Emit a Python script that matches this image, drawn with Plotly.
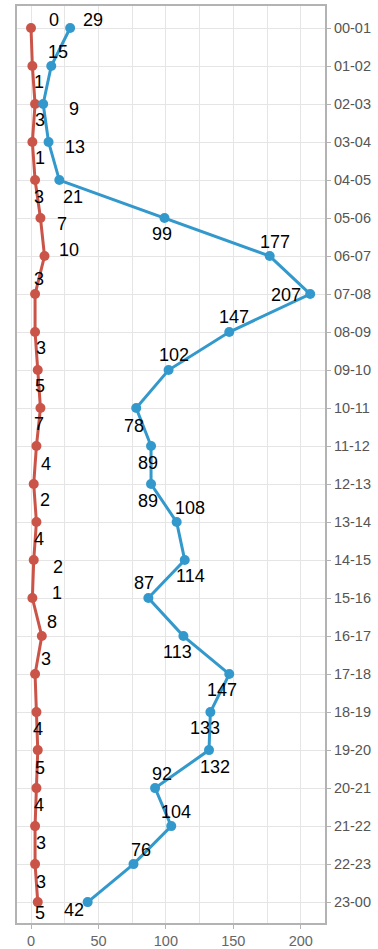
import plotly.graph_objects as go

hours = ["00-01","01-02","02-03","03-04","04-05","05-06","06-07","07-08","08-09","09-10",
         "10-11","11-12","12-13","13-14","14-15","15-16","16-17","17-18","18-19","19-20",
         "20-21","21-22","22-23","23-00"]
red_values = [0,1,3,1,3,7,10,3,3,5,7,4,2,4,2,1,8,3,4,5,4,3,3,5]
blue_values = [29,15,9,13,21,99,177,207,147,102,78,89,89,108,114,87,113,147,133,132,92,104,76,42]

# label offsets in pixels (dx right, dy down) from each point
red_label_dx = [23,7,5,8,4,22,24,4,6,2,-1,10,11,3,24,25,10,11,2,2,3,6,6,2]
red_label_dy = [-8,16,16,16,17,6,-6,-15,16,16,16,18,16,17,7,-5,-14,-15,17,18,17,17,18,11]
blue_label_dx = [23,7,31,26,14,-3,5,-24,5,5,-2,-3,-3,13,6,-4,-6,-7,-5,6,7,5,7,-14]
blue_label_dy = [-8,-14,5,5,17,16,-14,1,-15,-15,18,17,17,-14,16,-15,16,16,16,17,-14,-14,-14,8]

RED = "#cb5449"
BLUE = "#3399cc"
FONT = "Liberation Sans, Arial, sans-serif"

fig = go.Figure()
for vals, color in ((red_values, RED), (blue_values, BLUE)):
    fig.add_trace(go.Scatter(
        x=vals, y=hours, mode="lines+markers",
        line=dict(color=color, width=3), marker=dict(color=color, size=10),
        cliponaxis=False, showlegend=False, hoverinfo="x+y"))

for vals, dxs, dys in ((red_values, red_label_dx, red_label_dy),
                       (blue_values, blue_label_dx, blue_label_dy)):
    for v, h, dx, dy in zip(vals, hours, dxs, dys):
        fig.add_annotation(x=v, y=h, text=str(v), showarrow=False,
                           xanchor="center", yanchor="middle",
                           xshift=dx, yshift=-dy,
                           font=dict(family=FONT, size=18, color="#000"))

fig.update_layout(
    width=378, height=949,
    margin=dict(l=17, r=53, t=6, b=26),
    plot_bgcolor="white", paper_bgcolor="white",
    font=dict(family=FONT, color="#4d4d4d"),
    xaxis=dict(range=[-10.4, 218], tickvals=[0,50,100,150,200], showgrid=True,
               gridcolor="#e5e5e5", gridwidth=1, zeroline=False, automargin=False,
               minor=dict(dtick=25, tick0=0, showgrid=True, gridcolor="#e5e5e5", gridwidth=1),
               showline=True, linecolor="#b3b3b3", linewidth=2, mirror=True,
               ticks="outside", ticklen=4, tickcolor="#b3b3b3",
               tickfont=dict(size=14.5, color="#666")),
    yaxis=dict(type="category", categoryorder="array", categoryarray=hours, range=[23.55, -0.58],
               side="right", showgrid=True, gridcolor="#e5e5e5", gridwidth=1, automargin=False,
               showline=True, linecolor="#b3b3b3", linewidth=2, mirror=True,
               ticks="outside", ticklen=4, tickcolor="#b3b3b3",
               tickfont=dict(size=14.5, color="#555")),
)
fig.write_html("out.html", post_script="document.body.style.margin='0';",
               config={"displayModeBar": False})
